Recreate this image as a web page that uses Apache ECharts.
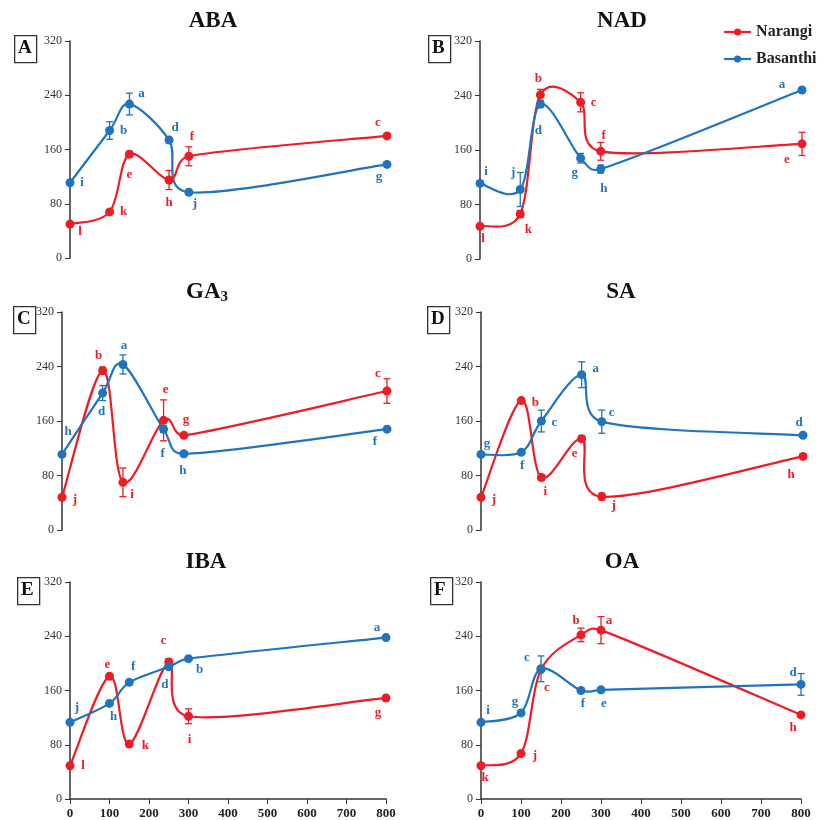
<!DOCTYPE html>
<html><head><meta charset="utf-8">
<script src="https://cdn.jsdelivr.net/npm/echarts@6/dist/echarts.min.js"></script>
<style>html,body{margin:0;padding:0;background:#fff}#c{width:824px;height:820px}</style>
</head><body><div id="c"></div>
<script>
// ---------- DATA ----------
const xValues = [0, 100, 150, 250, 300, 800];
const yTicks = [0, 80, 160, 240, 320];
const xTicks = [0, 100, 200, 300, 400, 500, 600, 700, 800];
const seriesNames = ['Narangi', 'Basanthi'];
const panelTitles = ['ABA', 'NAD', 'GA{s|3}', 'SA', 'IBA', 'OA'];
const panelLetters = ['A', 'B', 'C', 'D', 'E', 'F'];

const abaNarangi = [50, 68, 153, 115, 150, 180];
const abaNarangiErr = [0, 3, 4, 14, 14, 3];
const abaNarangiLetters = ['l', 'k', 'e', 'h', 'f', 'c'];
const abaBasanthi = [111, 188, 227, 174, 97, 138];
const abaBasanthiErr = [0, 13, 16, 3, 3, 0];
const abaBasanthiLetters = ['i', 'b', 'a', 'd', 'j', 'g'];

const nadNarangi = [48, 66, 241, 230, 158, 169];
const nadNarangiErr = [0, 5, 8, 14, 13, 17];
const nadNarangiLetters = ['l', 'k', 'b', 'c', 'f', 'e'];
const nadBasanthi = [111, 102, 227, 148, 132, 248];
const nadBasanthiErr = [0, 25, 4, 7, 6, 3];
const nadBasanthiLetters = ['i', 'j', 'd', 'g', 'h', 'a'];

const gaNarangi = [48, 234, 70, 161, 139, 204];
const gaNarangiErr = [0, 5, 21, 30, 3, 18];
const gaNarangiLetters = ['j', 'b', 'i', 'e', 'g', 'c'];
const gaBasanthi = [111, 201, 243, 148, 112, 148];
const gaBasanthiErr = [0, 11, 14, 5, 3, 0];
const gaBasanthiLetters = ['h', 'd', 'a', 'f', 'h', 'f'];

const saNarangi = [48, 190, 77, 134, 49, 108];
const saNarangiErr = [0, 2, 4, 4, 5, 3];
const saNarangiLetters = ['j', 'b', 'i', 'e', 'j', 'h'];
const saBasanthi = [111, 114, 160, 228, 159, 139];
const saBasanthiErr = [0, 3, 16, 19, 17, 0];
const saBasanthiLetters = ['g', 'f', 'c', 'a', 'c', 'd'];

const ibaNarangi = [49, 181, 81, 202, 122, 149];
const ibaNarangiErr = [0, 0, 0, 5, 11, 0];
const ibaNarangiLetters = ['l', 'e', 'k', 'c', 'i', 'g'];
const ibaBasanthi = [113, 141, 172, 195, 207, 238];
const ibaBasanthiErr = [0, 0, 0, 0, 0, 0];
const ibaBasanthiLetters = ['j', 'h', 'f', 'd', 'b', 'a'];

const oaNarangi = [49, 67, 191, 242, 249, 124];
const oaNarangiErr = [0, 3, 0, 10, 20, 0];
const oaNarangiLetters = ['k', 'j', 'c', 'b', 'a', 'h'];
const oaBasanthi = [113, 127, 192, 160, 161, 169];
const oaBasanthiErr = [0, 0, 19, 0, 3, 16];
const oaBasanthiLetters = ['i', 'g', 'c', 'f', 'e', 'd'];

// ---------- STYLE (label offsets, px) ----------
const labelOffsets = [
  [[[10,8],[14,0],[0,20],[0,23],[3,-20],[-9,-13]], [[12,0],[14,0],[12,-10],[6,-12],[6,11],[-8,12]]],
  [[[3,12],[8,16],[-2,-16],[13,0],[3,-16],[-15,16]], [[6,-12],[-7,-17],[-2,26],[-6,14],[3,20],[-20,-5]]],
  [[[13,2],[-4,-15],[9,12],[2,-31],[2,-16],[-9,-17]], [[6,-23],[-1,19],[1,-19],[-1,24],[-1,17],[-12,12]]],
  [[[13,2],[14,2],[4,14],[-7,15],[12,9],[-12,18]], [[6,-11],[1,13],[13,2],[14,-6],[10,-9],[-4,-13]]],
  [[[13,0],[-2,-12],[16,2],[-5,-21],[1,23],[-8,15]], [[7,-15],[4,13],[4,-16],[-4,18],[11,11],[-9,-10]]],
  [[[4,12],[14,2],[6,18],[-5,-14],[8,-10],[-8,13]], [[7,-12],[-6,-11],[-14,-11],[2,13],[3,14],[-8,-12]]]
];
const grids = [
  {left:70, top:41, right:437, bottom:562},
  {left:480, top:41, right:22, bottom:561},
  {left:62, top:312, right:437, bottom:290},
  {left:481, top:312, right:21, bottom:290},
  {left:70, top:582, right:438, bottom:20},
  {left:481, top:582, right:23, bottom:20}
];
const titlePos = [[213,10],[622,10],[207,280],[621,281],[206,551],[622,551]];
const boxPos = [[14,35],[428,35],[13,306],[427,306],[17,577],[430,577]];
const RED = '#ee1c25', BLUE = '#1f74bd';
const SERIF = '"Liberation Serif","Times New Roman",serif';

const panels = [
  [[abaNarangi, abaNarangiErr, abaNarangiLetters],[abaBasanthi, abaBasanthiErr, abaBasanthiLetters]],
  [[nadNarangi, nadNarangiErr, nadNarangiLetters],[nadBasanthi, nadBasanthiErr, nadBasanthiLetters]],
  [[gaNarangi, gaNarangiErr, gaNarangiLetters],[gaBasanthi, gaBasanthiErr, gaBasanthiLetters]],
  [[saNarangi, saNarangiErr, saNarangiLetters],[saBasanthi, saBasanthiErr, saBasanthiLetters]],
  [[ibaNarangi, ibaNarangiErr, ibaNarangiLetters],[ibaBasanthi, ibaBasanthiErr, ibaBasanthiLetters]],
  [[oaNarangi, oaNarangiErr, oaNarangiLetters],[oaBasanthi, oaBasanthiErr, oaBasanthiLetters]]
];

// Excel-like smoothed segment (Bezier) between point i and i+1, in pixel space
function smoothSegment(pts, i) {
  const n = pts.length;
  const p0 = pts[Math.max(i - 1, 0)], p1 = pts[i], p2 = pts[i + 1], p3 = pts[Math.min(i + 2, n - 1)];
  const f = 1 / 6;
  const seg = Math.hypot(p2[0] - p1[0], p2[1] - p1[1]);
  function arm(a, b) {
    let dx = (b[0] - a[0]) * f, dy = (b[1] - a[1]) * f;
    const len = Math.hypot(dx, dy), cap = seg * 0.5;
    if (len > cap && len > 0) { dx *= cap / len; dy *= cap / len; }
    return [dx, dy];
  }
  const a1 = arm(p0, p2), a2 = arm(p1, p3);
  return {x1: p1[0], y1: p1[1], cpx1: p1[0] + a1[0], cpy1: p1[1] + a1[1],
          cpx2: p2[0] - a2[0], cpy2: p2[1] - a2[1], x2: p2[0], y2: p2[1]};
}

const option = {
  animation: false,
  backgroundColor: '#fff',
  grid: [], xAxis: [], yAxis: [], series: [], title: [], graphic: [],
  legend: {
    data: seriesNames, left: 718, top: 19, orient: 'vertical', itemGap: 11,
    itemWidth: 27, itemHeight: 9,
    lineStyle: {opacity: 1, width: 2.2},
    textStyle: {fontFamily: SERIF, fontWeight: 'bold', fontSize: 16, color: '#222'}
  }
};

panels.forEach((p, i) => {
  const bottomRow = i >= 4;
  option.grid.push(Object.assign({containLabel: false}, grids[i]));
  option.xAxis.push({
    type: 'value', gridIndex: i, min: 0, max: 800, interval: 100,
    show: bottomRow,
    axisLine: {show: bottomRow, lineStyle: {color: '#333', width: 1.5}},
    axisTick: {show: bottomRow, length: 5, lineStyle: {color: '#333'}},
    splitLine: {show: false},
    axisLabel: {show: bottomRow, fontFamily: SERIF, fontWeight: 'bold', fontSize: 13, color: '#222', margin: 8}
  });
  option.yAxis.push({
    type: 'value', gridIndex: i, min: 0, max: 320, interval: 80,
    axisLine: {show: true, lineStyle: {color: '#333', width: 1.5}},
    axisTick: {show: true, length: 5, lineStyle: {color: '#333'}},
    splitLine: {show: false},
    axisLabel: {fontFamily: SERIF, fontSize: 12, color: '#333', margin: 8}
  });
  p.forEach((s, k) => {
    const color = k === 0 ? RED : BLUE;
    const vals = s[0], errs = s[1], letters = s[2];
    // smoothed curve
    option.series.push({
      type: 'custom', xAxisIndex: i, yAxisIndex: i, silent: true, z: 2,
      data: xValues.map((x, j) => [x, vals[j]]),
      renderItem: function (params, api) {
        const j = params.dataIndex;
        if (j >= xValues.length - 1) return null;
        const pts = xValues.map((x, m) => api.coord([x, vals[m]]));
        return {type: 'bezierCurve', shape: smoothSegment(pts, j),
          style: {stroke: color, lineWidth: 2.2, fill: null}};
      }
    });
    // error bars
    option.series.push({
      type: 'custom', xAxisIndex: i, yAxisIndex: i, silent: true, z: 3,
      data: xValues.map((x, j) => [x, vals[j], errs[j]]),
      renderItem: function (params, api) {
        const e = api.value(2);
        if (!e) return null;
        const x = api.value(0), y = api.value(1);
        const hi = api.coord([x, y + e]), lo = api.coord([x, y - e]);
        const w = 3.5;
        const st = {stroke: color, lineWidth: 1.3};
        return {type: 'group', children: [
          {type: 'line', shape: {x1: hi[0], y1: hi[1], x2: lo[0], y2: lo[1]}, style: st},
          {type: 'line', shape: {x1: hi[0]-w, y1: hi[1], x2: hi[0]+w, y2: hi[1]}, style: st},
          {type: 'line', shape: {x1: lo[0]-w, y1: lo[1], x2: lo[0]+w, y2: lo[1]}, style: st}
        ]};
      }
    });
    // markers + letters
    option.series.push({
      name: seriesNames[k], type: 'line', xAxisIndex: i, yAxisIndex: i,
      symbol: 'circle', symbolSize: 9, z: 4,
      itemStyle: {color: color}, lineStyle: {color: color, width: 2.2, opacity: 0},
      data: xValues.map((x, j) => ({
        value: [x, vals[j]],
        label: {offset: labelOffsets[i][k][j]}
      })),
      label: {
        show: true, position: 'inside',
        formatter: (prm) => letters[prm.dataIndex],
        fontFamily: SERIF, fontWeight: 'bold', fontSize: 13, color: color
      }
    });
  });
  option.title.push({
    text: panelTitles[i], left: titlePos[i][0], top: titlePos[i][1], textAlign: 'center', padding: 0,
    textStyle: {fontFamily: SERIF, fontWeight: 'bold', fontSize: 23, color: '#111',
      rich: {s: {fontFamily: SERIF, fontWeight: 'bold', fontSize: 15, color: '#111', verticalAlign: 'bottom', padding: [10,0,0,0]}}}
  });
  option.graphic.push({
    type: 'rect', left: boxPos[i][0], top: boxPos[i][1],
    shape: {width: 22, height: 27}, style: {fill: '#fff', stroke: '#333', lineWidth: 1.3}
  });
  option.graphic.push({
    type: 'text', left: boxPos[i][0] + 4, top: boxPos[i][1] + 4,
    style: {text: panelLetters[i], font: 'bold 19px ' + SERIF, fill: '#111'}
  });
});

const chart = echarts.init(document.getElementById('c'), null, {renderer: 'canvas'});
chart.setOption(option);
</script></body></html>
